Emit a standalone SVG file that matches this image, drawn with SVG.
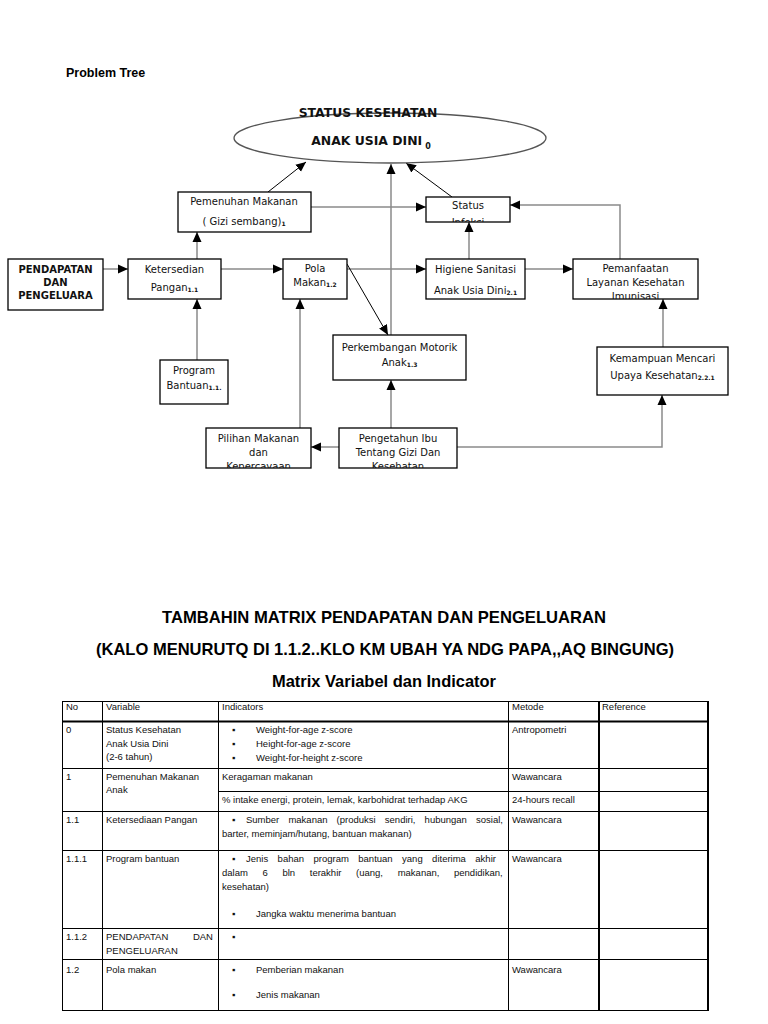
<svg xmlns="http://www.w3.org/2000/svg" width="768" height="1024" viewBox="0 0 768 1024">
<style>
.bx{fill:#fff;stroke:#000;stroke-width:1.3}
.t{font-family:"DejaVu Sans",Verdana,sans-serif;font-size:10px;fill:#111;text-anchor:middle}
.tb{font-family:"DejaVu Sans",Verdana,sans-serif;font-size:10px;font-weight:bold;fill:#111;text-anchor:middle}
.tb14{font-family:"DejaVu Sans",Verdana,sans-serif;font-size:12.4px;font-weight:bold;fill:#111;text-anchor:middle}
.sub{font-size:6px;font-weight:bold}
.g{stroke:#8a8a8a;stroke-width:1.5;fill:none}
.k{stroke:#000;stroke-width:1;fill:none}
.h{font-family:"Liberation Sans",Arial,sans-serif;font-weight:bold;fill:#000}
.tt{font-family:"Liberation Sans",Arial,sans-serif;font-size:9.5px;fill:#111}
.tl{stroke:#000;stroke-width:1;fill:none}
.tl2{stroke:#000;stroke-width:2;fill:none}
</style>
<defs>
<marker id="ar" markerUnits="userSpaceOnUse" markerWidth="10" markerHeight="10" refX="10" refY="5" orient="auto"><path d="M0,0.5 L10,5 L0,9.5 z" fill="#000"/></marker>
<clipPath id="cStatus"><rect x="426" y="197" width="84" height="25"/></clipPath>
<clipPath id="cPem"><rect x="573" y="259" width="125" height="40"/></clipPath>
<clipPath id="cPil"><rect x="206" y="428" width="105" height="40"/></clipPath>
<clipPath id="cPeng"><rect x="339" y="428" width="118" height="40"/></clipPath>
</defs>

<text x="66" y="77" class="h" font-size="12.5">Problem Tree</text>

<g id="connectors">
<line class="k" x1="268" y1="192" x2="306" y2="162" marker-end="url(#ar)"/>
<line class="k" x1="452" y1="197" x2="406" y2="163" marker-end="url(#ar)"/>
<line class="g" x1="391" y1="335" x2="391" y2="164" marker-end="url(#ar)"/>
<line class="g" x1="311" y1="207" x2="426" y2="207" marker-end="url(#ar)"/>
<line class="g" x1="469" y1="259" x2="469" y2="222" marker-end="url(#ar)"/>
<polyline class="g" points="620,259 620,205 510,205" marker-end="url(#ar)"/>
<line class="g" x1="103" y1="269" x2="128" y2="269" marker-end="url(#ar)"/>
<line class="g" x1="221" y1="269" x2="283" y2="269" marker-end="url(#ar)"/>
<line class="g" x1="197" y1="259" x2="197" y2="232" marker-end="url(#ar)"/>
<line class="g" x1="347" y1="269" x2="426" y2="269" marker-end="url(#ar)"/>
<line class="g" x1="525" y1="269" x2="573" y2="269" marker-end="url(#ar)"/>
<line class="k" x1="347" y1="264" x2="388" y2="335" marker-end="url(#ar)"/>
<line class="g" x1="197" y1="360" x2="197" y2="299" marker-end="url(#ar)"/>
<line class="g" x1="663" y1="347" x2="663" y2="299" marker-end="url(#ar)"/>
<line class="g" x1="300" y1="428" x2="300" y2="299" marker-end="url(#ar)"/>
<line class="g" x1="391" y1="428" x2="391" y2="380" marker-end="url(#ar)"/>
<line class="g" x1="339" y1="447" x2="311" y2="447" marker-end="url(#ar)"/>
<polyline class="g" points="457,447 662,447 662,395" marker-end="url(#ar)"/>
</g>

<g id="n0">
<ellipse cx="390" cy="138" rx="156" ry="25" fill="none" stroke="#555" stroke-width="1.3"/>
<text x="368" y="117" class="tb14">STATUS KESEHATAN</text>
<text x="371" y="145" class="tb14">ANAK USIA DINI<tspan style="font-size:8px" dx="3" dy="4">0</tspan></text>
</g>

<g id="n1">
<rect class="bx" x="178" y="192" width="133" height="40"/>
<text x="244" y="205" class="t">Pemenuhan Makanan</text>
<text x="244" y="225" class="t">( Gizi sembang)<tspan class="sub" dy="1">1</tspan></text>
</g>

<g id="n21">
<rect class="bx" x="426" y="197" width="84" height="25"/>
<g clip-path="url(#cStatus)">
<text x="468" y="209" class="t">Status</text>
<text x="468" y="226" class="t">Infeksi</text>
</g>
</g>

<g id="n112">
<rect class="bx" x="8" y="259" width="95" height="51"/>
<text x="55.5" y="273" class="tb">PENDAPATAN</text>
<text x="55.5" y="286" class="tb">DAN</text>
<text x="55.5" y="299" class="tb">PENGELUARA</text>
</g>

<g id="n11">
<rect class="bx" x="128" y="259" width="93" height="40"/>
<text x="174.5" y="273" class="t">Ketersedian</text>
<text x="174.5" y="291" class="t">Pangan<tspan class="sub" dy="1">1.1</tspan></text>
</g>

<g id="n12">
<rect class="bx" x="283" y="259" width="64" height="40"/>
<text x="315" y="272" class="t">Pola</text>
<text x="315" y="286" class="t">Makan<tspan class="sub" dy="1">1.2</tspan></text>
</g>

<g id="n2">
<rect class="bx" x="426" y="259" width="99" height="40"/>
<text x="475.5" y="273" class="t">Higiene Sanitasi</text>
<text x="475.5" y="294" class="t">Anak Usia Dini<tspan class="sub" dy="1">2.1</tspan></text>
</g>

<g id="n22">
<rect class="bx" x="573" y="259" width="125" height="40"/>
<g clip-path="url(#cPem)">
<text x="635.5" y="272" class="t">Pemanfaatan</text>
<text x="635.5" y="286" class="t">Layanan Kesehatan</text>
<text x="635.5" y="300" class="t">Imunisasi</text>
</g>
</g>

<g id="n13">
<rect class="bx" x="333" y="335" width="133" height="45"/>
<text x="399.5" y="351" class="t">Perkembangan Motorik</text>
<text x="399.5" y="366" class="t">Anak<tspan class="sub" dy="1">1.3</tspan></text>
</g>

<g id="n111">
<rect class="bx" x="160" y="360" width="68" height="44"/>
<text x="194" y="374" class="t">Program</text>
<text x="194" y="389" class="t">Bantuan<tspan class="sub" dy="1">1.1.</tspan></text>
</g>

<g id="n221">
<rect class="bx" x="597" y="347" width="131" height="48"/>
<text x="662.5" y="362" class="t">Kemampuan Mencari</text>
<text x="662.5" y="379" class="t">Upaya Kesehatan<tspan class="sub" dy="1">2.2.1</tspan></text>
</g>

<g id="n121">
<rect class="bx" x="206" y="428" width="105" height="40"/>
<g clip-path="url(#cPil)">
<text x="258.5" y="442" class="t">Pilihan Makanan</text>
<text x="258.5" y="456" class="t">dan</text>
<text x="258.5" y="470" class="t">Kepercayaan</text>
</g>
</g>

<g id="n131">
<rect class="bx" x="339" y="428" width="118" height="40"/>
<g clip-path="url(#cPeng)">
<text x="398" y="442" class="t">Pengetahun Ibu</text>
<text x="398" y="456" class="t">Tentang Gizi Dan</text>
<text x="398" y="470" class="t">Kesehatan</text>
</g>
</g>

<text x="384" y="623" class="h" font-size="17" text-anchor="middle" textLength="444" lengthAdjust="spacingAndGlyphs">TAMBAHIN MATRIX PENDAPATAN DAN PENGELUARAN</text>
<text x="385" y="655" class="h" font-size="17" text-anchor="middle" textLength="578" lengthAdjust="spacingAndGlyphs">(KALO MENURUTQ DI 1.1.2..KLO KM UBAH YA NDG PAPA,,AQ BINGUNG)</text>
<text x="384" y="687" class="h" font-size="17" text-anchor="middle" textLength="224" lengthAdjust="spacingAndGlyphs">Matrix Variabel dan Indicator</text>

<g id="table">
<rect class="tl" x="62.5" y="701.5" width="646" height="309"/>
<line class="tl2" x1="708" y1="701" x2="708" y2="1011"/>
<line class="tl" x1="102.5" y1="701" x2="102.5" y2="1011"/>
<line class="tl" x1="218.5" y1="701" x2="218.5" y2="1011"/>
<line class="tl" x1="508.5" y1="701" x2="508.5" y2="1011"/>
<line class="tl2" x1="599" y1="701" x2="599" y2="1011"/>
<line class="tl2" x1="62" y1="721.5" x2="709" y2="721.5"/>
<line class="tl" x1="62" y1="768.5" x2="709" y2="768.5"/>
<line class="tl" x1="218" y1="791.5" x2="709" y2="791.5"/>
<line class="tl" x1="62" y1="811.5" x2="709" y2="811.5"/>
<line class="tl" x1="62" y1="850.5" x2="709" y2="850.5"/>
<line class="tl" x1="62" y1="928.5" x2="709" y2="928.5"/>
<line class="tl" x1="62" y1="959.5" x2="709" y2="959.5"/>

<text class="tt" x="66" y="710">No</text>
<text class="tt" x="106" y="710">Variable</text>
<text class="tt" x="222" y="710">Indicators</text>
<text class="tt" x="512" y="710">Metode</text>
<text class="tt" x="602" y="710">Reference</text>

<text class="tt" x="66" y="733">0</text>
<text class="tt" x="106" y="733">Status Kesehatan</text>
<text class="tt" x="106" y="747">Anak Usia Dini</text>
<text class="tt" x="106" y="760">(2-6 tahun)</text>
<text class="tt" x="232" y="733">▪</text><text class="tt" x="256" y="733">Weight-for-age z-score</text>
<text class="tt" x="232" y="747">▪</text><text class="tt" x="256" y="747">Height-for-age z-score</text>
<text class="tt" x="232" y="761">▪</text><text class="tt" x="256" y="761">Weight-for-height z-score</text>
<text class="tt" x="512" y="733">Antropometri</text>

<text class="tt" x="66" y="780">1</text>
<text class="tt" x="106" y="780">Pemenuhan Makanan</text>
<text class="tt" x="106" y="793">Anak</text>
<text class="tt" x="222" y="780">Keragaman makanan</text>
<text class="tt" x="512" y="780">Wawancara</text>
<text class="tt" x="222" y="803">% intake energi, protein, lemak, karbohidrat terhadap AKG</text>
<text class="tt" x="512" y="803">24-hours recall</text>

<text class="tt" x="66" y="823">1.1</text>
<text class="tt" x="106" y="823">Ketersediaan Pangan</text>
<text class="tt" x="232" y="823">▪</text><text class="tt" x="246" y="823" word-spacing="6.5">Sumber makanan (produksi sendiri, hubungan sosial,</text>
<text class="tt" x="222" y="837">barter, meminjam/hutang, bantuan makanan)</text>
<text class="tt" x="512" y="823">Wawancara</text>

<text class="tt" x="66" y="862">1.1.1</text>
<text class="tt" x="106" y="862">Program bantuan</text>
<text class="tt" x="232" y="862">▪</text><text class="tt" x="246" y="862" word-spacing="6.8">Jenis bahan  program bantuan yang diterima akhir</text>
<text class="tt" x="222" y="876" word-spacing="12">dalam 6 bln terakhir (uang, makanan, pendidikan,</text>
<text class="tt" x="222" y="890">kesehatan)</text>
<text class="tt" x="232" y="917">▪</text><text class="tt" x="256" y="917">Jangka waktu menerima bantuan</text>
<text class="tt" x="512" y="862">Wawancara</text>

<text class="tt" x="66" y="940">1.1.2</text>
<text class="tt" x="106" y="940" word-spacing="22">PENDAPATAN DAN</text>
<text class="tt" x="106" y="954">PENGELUARAN</text>
<text class="tt" x="232" y="940">▪</text>

<text class="tt" x="66" y="973">1.2</text>
<text class="tt" x="106" y="973">Pola makan</text>
<text class="tt" x="232" y="973">▪</text><text class="tt" x="256" y="973">Pemberian makanan</text>
<text class="tt" x="232" y="998">▪</text><text class="tt" x="256" y="998">Jenis makanan</text>
<text class="tt" x="512" y="973">Wawancara</text>
</g>
</svg>
